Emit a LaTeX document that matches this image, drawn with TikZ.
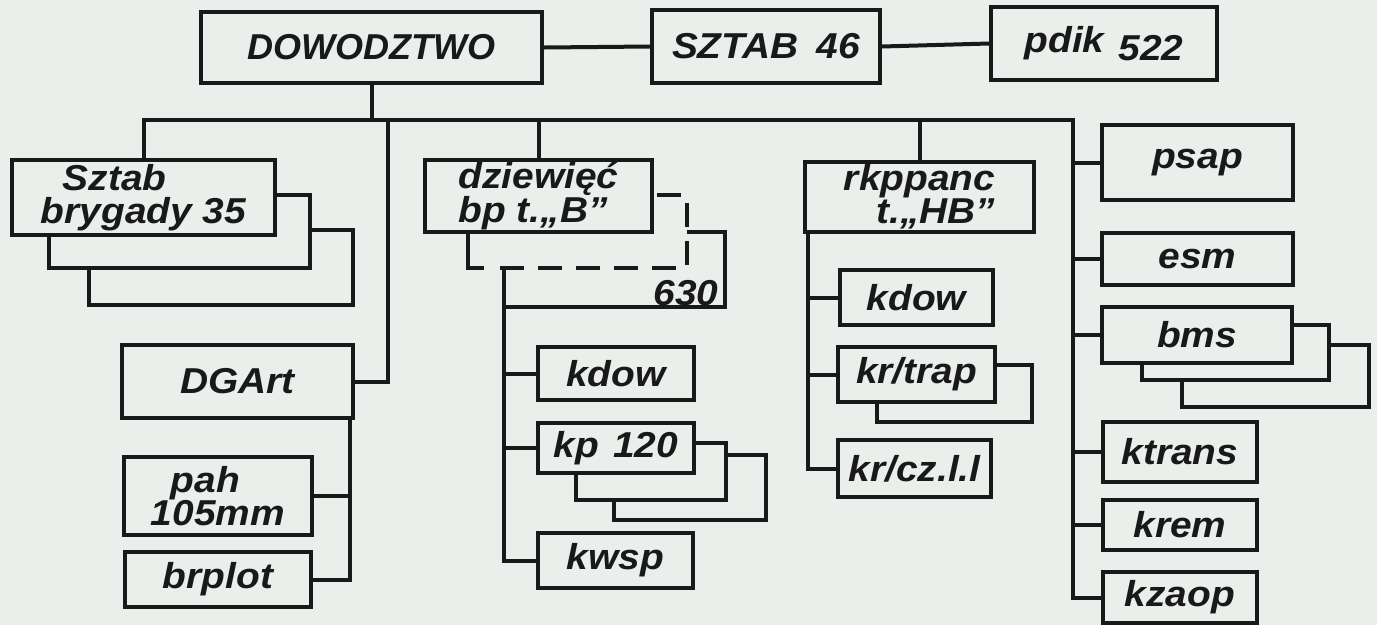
\documentclass[tikz,border=0pt]{standalone}
\usepackage{fontspec}
\usepackage{graphicx}
\newfontfamily\hand{Liberation Sans}
\definecolor{ink}{RGB}{25,25,25}
\definecolor{paper}{RGB}{234,239,235}
\newcommand\hw[1]{\scalebox{1.08}[1]{#1}}
\tikzset{
  box/.style={draw=ink, line width=4pt, inner sep=0pt, align=center, text=ink,
    font=\hand\bfseries\itshape\fontsize{36}{33}\selectfont},
  ln/.style={draw=ink, line width=4pt},
  dashln/.style={draw=ink, line width=4pt, dash pattern=on 24pt off 14pt},
}
\begin{document}
\begin{tikzpicture}[x=1pt,y=-1pt]
\fill[paper] (0,0) rectangle (1377,625);
\useasboundingbox (0,0) rectangle (1377,625);

% top row
\node[box, minimum width=341, minimum height=71, font=\hand\bfseries\itshape\fontsize{36}{36}\selectfont] (dow) at (371.5,47.5) {DOWODZTWO};
\node[box, minimum width=228, minimum height=73] (sztab) at (766,46.5) {\hw{SZTAB}\hspace{18pt}\hw{46}};
\node[box, minimum width=226, minimum height=73] (pdik) at (1104,43.5) {\hw{pdik}\hspace{14pt}\raisebox{-8pt}{\hw{522}}};

% second row
\node[box, minimum width=263, minimum height=75, align=left] (sztabbr) at (143.5,197.5) {\hspace{22pt}\hw{Sztab}\\\hw{brygady 35}};
\node[box, minimum width=227, minimum height=72, align=left] (dziew) at (538.5,196) {\hw{dziewięć}\\\hw{bp t.„B”}};
\node[box, minimum width=229, minimum height=70, align=right] (rkp) at (919.5,197) {\hw{rkppanc}\\\hw{t.„HB”}};
\node[box, minimum width=191, minimum height=75] (psap) at (1197.5,162.5) {\hw{psap}};
\node[box, minimum width=191, minimum height=52] (esm) at (1197.5,259) {\hw{esm}};
\node[box, minimum width=190, minimum height=56] (bms) at (1197,335) {\hw{bms}};
\node[box, minimum width=154, minimum height=60] (ktrans) at (1180,452) {\hw{ktrans}};
\node[box, minimum width=154, minimum height=50] (krem) at (1180,525) {\hw{krem}};
\node[box, minimum width=154, minimum height=51] (kzaop) at (1180,597.5) {\hw{kzaop}};

% rkppanc column
\node[box, minimum width=153, minimum height=55] (kdowb) at (916.5,297.5) {\hw{kdow}};
\node[box, minimum width=157, minimum height=55] (krtrap) at (916.5,374.5) {\hw{kr/trap}};
\node[box, minimum width=153, minimum height=57] (krcz) at (914.5,468.5) {\hw{kr/cz.l.l}};

% dziewiec column
\node[box, minimum width=156, minimum height=53] (kdowa) at (616,373.5) {\hw{kdow}};
\node[box, minimum width=156, minimum height=50] (kp) at (616,448) {\hw{kp}\hspace{14pt}\hw{120}};
\node[box, minimum width=155, minimum height=55] (kwsp) at (615.5,560.5) {\hw{kwsp}};

% left column
\node[box, minimum width=231, minimum height=73] (dgart) at (237.5,381.5) {\hw{DGArt}};
\node[box, minimum width=188, minimum height=78, align=left] (pah) at (218,496) {\hspace{20pt}\hw{pah}\\\hw{105mm}};
\node[box, minimum width=186, minimum height=55] (brplot) at (218,579.5) {\hw{brplot}};

\node[text=ink, inner sep=0pt, font=\hand\bfseries\itshape\fontsize{36}{36}\selectfont] (n630) at (686,293) {\hw{630}};

% coordinates
\coordinate (busR) at (1073,120);
\coordinate (dgbus) at (388,120);
\coordinate (mv) at (504,270);
\coordinate (dgv) at (350,418);
\coordinate (rv) at (808,232);

% top connectors
\draw[ln] (dow.east) -- (sztab.west);
\draw[ln] (sztab.east) -- (pdik.west);
\draw[ln] (dow.south) -- (dow.south |- busR);
\draw[ln] (sztabbr.north) |- (busR) -- (busR |- kzaop.west) -- (kzaop.west);
\draw[ln] (dziew.north) -- (dziew.north |- busR);
\draw[ln] (rkp.north) -- (rkp.north |- busR);
\draw[ln] (dgbus) |- (dgart.east);

% right column
\foreach \n in {psap,esm,bms,ktrans,krem}{
  \draw[ln] (busR |- \n.west) -- (\n.west);
}

% rkppanc column
\draw[ln] (rv) |- (krcz.west);
\draw[ln] (rv |- kdowb.west) -- (kdowb.west);
\draw[ln] (rv |- krtrap.west) -- (krtrap.west);

% dziewiec column
\draw[ln] (mv) |- (kwsp.west);
\draw[ln] (mv |- kdowa.west) -- (kdowa.west);
\draw[ln] (mv |- kp.west) -- (kp.west);

% left column
\draw[ln] (dgv) |- (brplot.east);
\draw[ln] (pah.east) -- (pah.east -| dgv);

% stacked shadows
\draw[ln] (275,195) -- (310,195) -- (310,268) -- (49,268) -- (49,235);
\draw[ln] (310,230) -- (353,230) -- (353,305) -- (89,305) -- (89,268);

\draw[ln] (468,232) -- (468,268) -- (484,268);
\draw[dashln] (500,268) -- (687,268) -- (687,195) -- (652,195);
\draw[ln] (687,232) -- (725,232) -- (725,307) -- (504,307);

\draw[ln] (694,443) -- (726,443) -- (726,500) -- (576,500) -- (576,473);
\draw[ln] (726,455) -- (766,455) -- (766,520) -- (614,520) -- (614,500);

\draw[ln] (1292,325) -- (1329,325) -- (1329,380) -- (1142,380) -- (1142,363);
\draw[ln] (1329,345) -- (1369,345) -- (1369,407) -- (1182,407) -- (1182,380);

\draw[ln] (995,365) -- (1032,365) -- (1032,422) -- (877,422) -- (877,402);
\end{tikzpicture}
\end{document}
